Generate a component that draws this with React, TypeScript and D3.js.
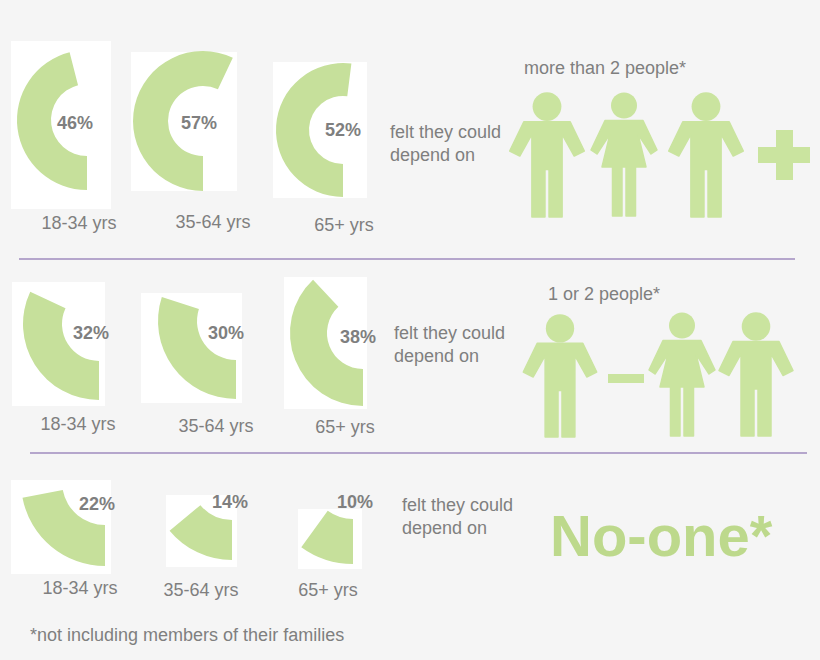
import React, { useEffect } from "react";
import * as d3 from "d3";

// values
const ageGroups = ["18-34 yrs", "35-64 yrs", "65+ yrs"];
const groupTitles = ["more than 2 people*", "1 or 2 people*", "No-one*"];
const moreThanTwo = [46, 57, 52];
const oneOrTwo = [32, 30, 38];
const noOne = [22, 14, 10];
const leadText = ["felt they could", "depend on"];
const footnote = "*not including members of their families";

const W = 820;
const H = 660;
const GREEN = "#c6e09b";
const ICON = "#cae49f";
const GREY = "#7f7f7f";
const LINE = "#b5a6cc";

// per-panel layout: white card, donut centre/radii, label spots
type Panel = {
  box: [number, number, number, number];
  c: [number, number];
  R: number;
  r: number;
  lab: [number, number];
  age: [number, number];
};

const panels: Panel[][] = [
  [
    { box: [11, 41, 100, 168], c: [87, 120], R: 70, r: 36, lab: [75, 123], age: [79, 223] },
    { box: [131, 52, 106, 139], c: [203, 121], R: 70, r: 35, lab: [199, 123], age: [213, 222] },
    { box: [273, 62, 94, 136], c: [343, 130], R: 67, r: 34, lab: [343, 130], age: [344, 225] },
  ],
  [
    { box: [12, 282, 93, 124], c: [99, 324], R: 76, r: 37, lab: [91, 333], age: [78, 424] },
    { box: [141, 293, 101, 110], c: [236, 321], R: 78, r: 39, lab: [226, 333], age: [216, 426] },
    { box: [284, 277, 83, 132], c: [363, 333], R: 73, r: 36, lab: [358, 337], age: [345, 427] },
  ],
  [
    { box: [11, 480, 100, 94], c: [105, 482], R: 84, r: 43, lab: [97, 504], age: [80, 588] },
    { box: [166, 495, 71, 72], c: [232, 479], R: 81, r: 41, lab: [230, 502], age: [201, 590] },
    { box: [298, 509, 64, 60], c: [353, 476], R: 88, r: 43, lab: [355, 502], age: [328, 590] },
  ],
];

const rowValues = [moreThanTwo, oneOrTwo, noOne];
const leadPos: [number, number][] = [[390, 132], [394, 333], [402, 505]];
const titlePos: [number, number][] = [[605, 68], [604, 294]];
const dividers = [
  { x1: 19, x2: 795, y: 259 },
  { x1: 30, x2: 807, y: 453 },
];

// people icons (decoration)
const icons = [
  { kind: "man", cx: 547, top: 92, h: 125 },
  { kind: "woman", cx: 624, top: 92, h: 124 },
  { kind: "man", cx: 706, top: 92, h: 125 },
  { kind: "man", cx: 560, top: 314, h: 123 },
  { kind: "woman", cx: 682, top: 312, h: 124 },
  { kind: "man", cx: 756, top: 312, h: 124 },
];

// outlines in a 124-tall unit box, origin at head top / centre line
const manPts: [number, number][] = [
  [-23, 29.5], [23, 29.5], [37, 58.5], [27, 63.5], [15, 42], [15, 124], [2, 124], [2, 77],
  [-2, 77], [-2, 124], [-15, 124], [-15, 42], [-27, 63.5], [-37, 58.5],
];
const womanPts: [number, number][] = [
  [-19, 28.5], [19, 28.5], [33, 58], [27, 62], [14, 42], [22, 75], [11.5, 75], [11.5, 124],
  [2, 124], [2, 75], [-2, 75], [-2, 124], [-11.5, 124], [-11.5, 75], [-22, 75],
  [-14, 42], [-27, 62], [-33, 58],
];

const angle = d3.scaleLinear().domain([0, 100]).range([Math.PI, 3 * Math.PI]);

function Person({ kind, cx, top, h }: { kind: string; cx: number; top: number; h: number }) {
  const k = h / 124;
  const man = kind === "man";
  const pts = man ? manPts : womanPts;
  const line = d3.line<[number, number]>().x(d => cx + d[0] * k).y(d => top + d[1] * k);
  return (
    <g fill={ICON}>
      <circle cx={cx} cy={top + (man ? 14.5 : 13.5) * k} r={(man ? 14.3 : 13) * k} />
      <path d={line(pts) + "Z"} stroke={ICON} strokeWidth={1.5} strokeLinejoin="round" />
    </g>
  );
}

export default function App() {
  useEffect(() => {
    document.body.style.margin = "0";
  }, []);

  const font = "'Liberation Sans', Arial, sans-serif";

  return (
    <svg width={W} height={H} style={{ display: "block", fontFamily: font }}>
      <rect width={W} height={H} fill="#f5f5f5" />

      {panels.map((row, ri) =>
        row.map((p, ci) => {
          const v = rowValues[ri][ci];
          const arc = d3.arc()({
            innerRadius: p.r,
            outerRadius: p.R,
            startAngle: angle(0),
            endAngle: angle(v),
          } as any);
          return (
            <g key={`${ri}-${ci}`}>
              <rect x={p.box[0]} y={p.box[1]} width={p.box[2]} height={p.box[3]} fill="#ffffff" />
              <path d={arc || ""} transform={`translate(${p.c[0]},${p.c[1]})`} fill={GREEN} />
              <text x={p.lab[0]} y={p.lab[1]} dy="0.36em" textAnchor="middle"
                fontSize={18} fontWeight="bold" fill={GREY}>{v}%</text>
              <text x={p.age[0]} y={p.age[1]} dy="0.36em" textAnchor="middle"
                fontSize={18} fill={GREY}>{ageGroups[ci]}</text>
            </g>
          );
        })
      )}

      {dividers.map((d, i) => (
        <line key={i} x1={d.x1} x2={d.x2} y1={d.y} y2={d.y} stroke={LINE} strokeWidth={2} />
      ))}

      {leadPos.map((pos, i) => (
        <g key={i} fontSize={18} fill={GREY}>
          <text x={pos[0]} y={pos[1]} dy="0.36em">{leadText[0]}</text>
          <text x={pos[0]} y={pos[1] + 22.5} dy="0.36em">{leadText[1]}</text>
        </g>
      ))}

      {titlePos.map((pos, i) => (
        <text key={i} x={pos[0]} y={pos[1]} dy="0.36em" textAnchor="middle" fontSize={18} fill={GREY}>
          {groupTitles[i]}
        </text>
      ))}

      <text x={550} y={556} fontSize={58} fontWeight="bold" fill="#bdd98c">{groupTitles[2]}</text>

      {icons.map((ic, i) => (
        <Person key={i} {...ic} />
      ))}

      {/* plus sign and dash */}
      <g fill={ICON}>
        <rect x={776} y={130} width={17} height={50} />
        <rect x={758} y={147} width={52} height={16} />
        <rect x={608} y={374} width={36} height={9} />
      </g>

      <text x={30} y={635} dy="0.36em" fontSize={18} fill={GREY}>{footnote}</text>
    </svg>
  );
}
